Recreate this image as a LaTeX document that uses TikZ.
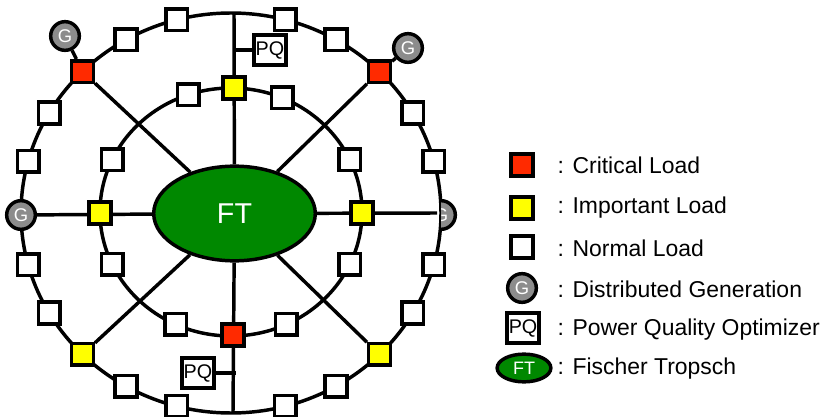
\documentclass[tikz,border=0pt]{standalone}
\usepackage{fontspec}
\setmainfont{Liberation Sans}
\usetikzlibrary{shapes.geometric,backgrounds}
\definecolor{critred}{HTML}{FF2A00}
\definecolor{impyellow}{HTML}{FFFF00}
\definecolor{ftgreen}{HTML}{008800}
\definecolor{gengray}{HTML}{8C8C8C}
\tikzset{
  load/.style={draw,line width=2.6pt,fill=white,minimum size=16.2pt,inner sep=0pt},
  critical/.style={load,fill=critred},
  important/.style={load,fill=impyellow},
  gen/.style={circle,draw,line width=2.6pt,fill=gengray,minimum size=21.5pt,
    inner sep=0pt,text=white,font=\fontsize{13.8}{13.8}\selectfont},
  pq/.style={draw,line width=2.6pt,fill=white,minimum width=23.8pt,minimum height=22.2pt,
    inner sep=0pt,font=\fontsize{14.8}{14.8}\selectfont},
  ftplant/.style={ellipse,draw,line width=2.6pt,fill=ftgreen,inner sep=0pt,text=white},
  wire/.style={line width=2.6pt},
  legtext/.style={anchor=west,font=\fontsize{17.2}{17.2}\selectfont}
}
\begin{document}
\begin{tikzpicture}[x=0.75pt,y=0.75pt]
      \useasboundingbox (0,0) rectangle (825,-417);

      \node[ftplant,minimum width=121.2pt,minimum height=71pt,
        font=\fontsize{21.5}{21.5}\selectfont] (ft) at (234.5,-213.5) {FT};

      % outer ring
      \foreach \a in {15,30,60,75,105,120,150,165,195,210,240,255,285,300,330,345}
        \node[load] (o\a) at ({231+210*cos(\a)},{-213+200*sin(\a)}) {};
      \node[critical] (o45) at ({231+210*cos(45)},{-213+200*sin(45)}) {};
      \node[critical] (o135) at ({231+210*cos(135)},{-213+200*sin(135)}) {};
      \node[important] (o225) at ({231+210*cos(225)},{-213+200*sin(225)}) {};
      \node[important] (o315) at ({231+210*cos(315)},{-213+200*sin(315)}) {};

      % inner ring
      \foreach \a in {25,67,109,155,205,245,295,335}
        \node[load] (i\a) at ({231+131*cos(\a)},{-212+124*sin(\a)}) {};
      \node[important] (i0) at (362,-213) {};
      \node[important] (i90) at (234,-88) {};
      \node[important] (i180) at (100,-213) {};
      \node[critical] (i270) at (233,-335) {};

      % generators
      \node[gen] (gL) at (21,-215) {G};
      \node[gen] (gTL) at (65,-36) {G};
      \node[gen] (gTR) at (408,-48) {G};
      \begin{scope}
        \clip (441,-195) rectangle (470,-235);
        \node[gen] (gR) at (441,-215) {G};
      \end{scope}

      \node[pq] (pqT) at (270,-50) {PQ};
      \node[pq] (pqB) at (198,-373) {PQ};

      \coordinate (topend) at (234,-13);
      \coordinate (botend) at (233,-412);
      \coordinate (rightend) at (437,-213);
      \coordinate (pqBend) at (236,-373);

      \begin{scope}[on background layer]
        \draw[wire] (231,-213) ellipse [x radius=210,y radius=200];
        \draw[wire] (231,-212) ellipse [x radius=131,y radius=124];
        \draw[wire] (ft) -- (topend);
        \draw[wire] (ft) -- (botend);
        \draw[wire] (gL) -- (ft);
        \draw[wire] (ft) -- (rightend);
        \draw[wire] (ft) -- (o45);
        \draw[wire] (ft) -- (o135);
        \draw[wire] (ft) -- (o225);
        \draw[wire] (ft) -- (o315);
        \draw[wire] (gTL) -- (o135);
        \draw[wire] (gTR) -- (o45);
        \draw[wire] (234,-50) -- (pqT);
        \draw[wire] (pqB) -- (pqBend);
      \end{scope}

      % legend
      \node[critical] (lcrit) at (522,-165) {};
      \node[important] (limp) at (522,-208) {};
      \node[load] (lnorm) at (522,-247) {};
      \node[gen] (lgen) at (522,-288) {G};
      \node[pq] (lpq) at (523,-328) {PQ};
      \node[ftplant,minimum width=40.3pt,minimum height=20.8pt,
        font=\fontsize{13.5}{13.5}\selectfont] (lft) at (524,-368) {FT};

      \node[legtext] at (553,-165) {: Critical Load};
      \node[legtext] at (553,-208) {: Important Load};
      \node[legtext] at (553,-248) {: Normal Load};
      \node[legtext] at (553,-289) {: Distributed Generation};
      \node[legtext] at (553,-330) {: Power Quality Optimizer};
      \node[legtext] at (553,-369) {: Fischer Tropsch};
\end{tikzpicture}
\end{document}
